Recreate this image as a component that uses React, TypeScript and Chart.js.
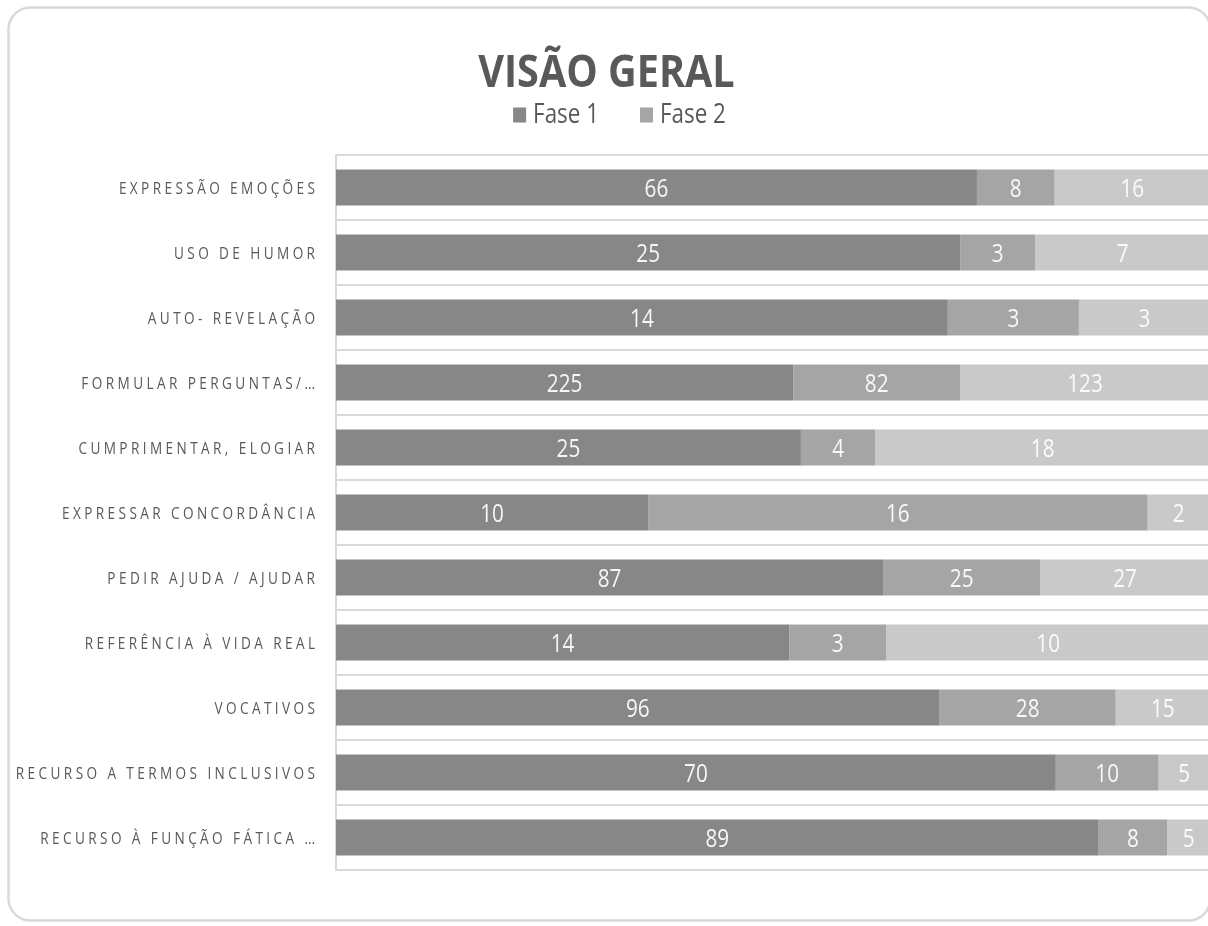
import React, { useEffect, useRef } from "react";
import { Chart, registerables } from "chart.js";

Chart.register(...registerables);

// ---- data ----
const chartTitle = "VISÃO GERAL";
const categories = [
  "EXPRESSÃO EMOÇÕES",
  "USO DE HUMOR",
  "AUTO- REVELAÇÃO",
  "FORMULAR PERGUNTAS/…",
  "CUMPRIMENTAR, ELOGIAR",
  "EXPRESSAR CONCORDÂNCIA",
  "PEDIR AJUDA / AJUDAR",
  "REFERÊNCIA À VIDA REAL",
  "VOCATIVOS",
  "RECURSO A TERMOS INCLUSIVOS",
  "RECURSO À FUNÇÃO FÁTICA …",
];
const fase1 = [66, 25, 14, 225, 25, 10, 87, 14, 96, 70, 89];
const fase2 = [8, 3, 3, 82, 4, 16, 25, 3, 28, 10, 8];
const fase3 = [16, 7, 3, 123, 18, 2, 27, 10, 15, 5, 5];
const seriesNames = ["Fase 1", "Fase 2", "Fase 3"];
const legendSeries = ["Fase 1", "Fase 2"];
const seriesColors = ["#878787", "#a5a5a5", "#c9c9c9"];

const FONT = "'Open Sans', 'Noto Sans', sans-serif";
const TEXT_GRAY = "#595959";
const LINE_GRAY = "#d9d9d9";

function drawScaled(ctx: CanvasRenderingContext2D, text: string, x: number, y: number, sx: number, align: CanvasTextAlign) {
  ctx.save();
  ctx.translate(x, y);
  ctx.scale(sx, 1);
  ctx.textAlign = align;
  ctx.textBaseline = "alphabetic";
  ctx.fillText(text, 0, 0);
  ctx.restore();
}

function drawSpacedRight(ctx: CanvasRenderingContext2D, text: string, rightX: number, y: number, spacing: number, sx: number) {
  const chars = Array.from(text);
  const widths = chars.map((c) => ctx.measureText(c).width * sx);
  const total = widths.reduce((a, b) => a + b, 0) + spacing * (chars.length - 1);
  let x = rightX - total;
  chars.forEach((c, i) => {
    drawScaled(ctx, c, x, y, sx, "left");
    x += widths[i] + spacing;
  });
}

const decorPlugin = {
  id: "decor",
  beforeDraw(chart: any) {
    const ctx: CanvasRenderingContext2D = chart.ctx;
    ctx.save();
    ctx.strokeStyle = LINE_GRAY;
    ctx.lineWidth = 2.5;
    ctx.beginPath();
    (ctx as any).roundRect(8.5, 7.5, 1202, 913, 22);
    ctx.stroke();
    ctx.restore();
  },
  afterDatasetsDraw(chart: any) {
    const ctx: CanvasRenderingContext2D = chart.ctx;
    const raws = [fase1, fase2, fase3];
    ctx.save();
    ctx.fillStyle = "rgba(255,255,255,0.92)";
    ctx.font = `400 25px ${FONT}`;
    chart.data.datasets.forEach((_: any, di: number) => {
      const meta = chart.getDatasetMeta(di);
      meta.data.forEach((el: any, i: number) => {
        const cx = (el.x + el.base) / 2;
        drawScaled(ctx, String(raws[di][i]), cx, el.y + 9, 0.83, "center");
      });
    });
    ctx.restore();
  },
  afterDraw(chart: any) {
    const ctx: CanvasRenderingContext2D = chart.ctx;
    const yScale = chart.scales.y;
    ctx.save();
    // category labels
    ctx.fillStyle = TEXT_GRAY;
    ctx.font = `400 17px ${FONT}`;
    categories.forEach((c, i) => {
      const y = yScale.getPixelForValue(i);
      drawSpacedRight(ctx, c, 315, y + 6, 3.4, 0.8);
    });
    // title
    ctx.fillStyle = TEXT_GRAY;
    ctx.font = `700 44px ${FONT}`;
    drawScaled(ctx, chartTitle, 606.5, 87, 0.9, "center");
    // legend
    const lsx = 0.8;
    ctx.font = `400 28px ${FONT}`;
    const box = 13;
    const gapBox = 7;
    const gapItem = 41;
    const items = legendSeries.map((name) => ({
      name,
      color: seriesColors[seriesNames.indexOf(name)],
      w: ctx.measureText(name).width * lsx,
    }));
    const totalW = items.reduce((a, it) => a + box + gapBox + it.w, 0) + gapItem * (items.length - 1);
    let x = 619.5 - totalW / 2;
    items.forEach((it) => {
      ctx.fillStyle = it.color;
      ctx.fillRect(x, 107.5, box, 15);
      ctx.fillStyle = TEXT_GRAY;
      drawScaled(ctx, it.name, x + box + gapBox, 123.3, lsx, "left");
      x += box + gapBox + it.w + gapItem;
    });
    ctx.restore();
  },
};

export default function App() {
  const ref = useRef<HTMLCanvasElement | null>(null);
  useEffect(() => {
    if (!ref.current) return;
    const raws = [fase1, fase2, fase3];
    const totals = fase1.map((v, i) => v + fase2[i] + fase3[i]);
    const chart = new Chart(ref.current, {
      type: "bar",
      data: {
        labels: categories,
        datasets: raws.map((arr, di) => ({
          label: seriesNames[di],
          data: arr.map((v, i) => (v / totals[i]) * 100),
          backgroundColor: seriesColors[di],
          borderWidth: 0,
          barPercentage: 0.554,
          categoryPercentage: 1,
        })),
      },
      options: {
        indexAxis: "y",
        responsive: false,
        animation: false,
        layout: { padding: { left: 336, right: 30, top: 155, bottom: 56 } },
        plugins: {
          legend: { display: false },
          title: { display: false },
          tooltip: { enabled: false },
        },
        scales: {
          x: { stacked: true, min: 0, max: 100, display: false },
          y: {
            stacked: true,
            grid: { offset: true, color: LINE_GRAY, lineWidth: 2, drawTicks: false },
            border: { display: true, color: LINE_GRAY, width: 2 },
            ticks: { display: false },
          },
        },
      },
      plugins: [decorPlugin],
    });
    return () => chart.destroy();
  }, []);
  return (
    <div style={{ position: "absolute", left: 0, top: 0, width: 1208, height: 926, overflow: "hidden", background: "#fff" }}>
      <canvas ref={ref} width={1240} height={926} style={{ display: "block", width: 1240, height: 926 }} />
    </div>
  );
}
